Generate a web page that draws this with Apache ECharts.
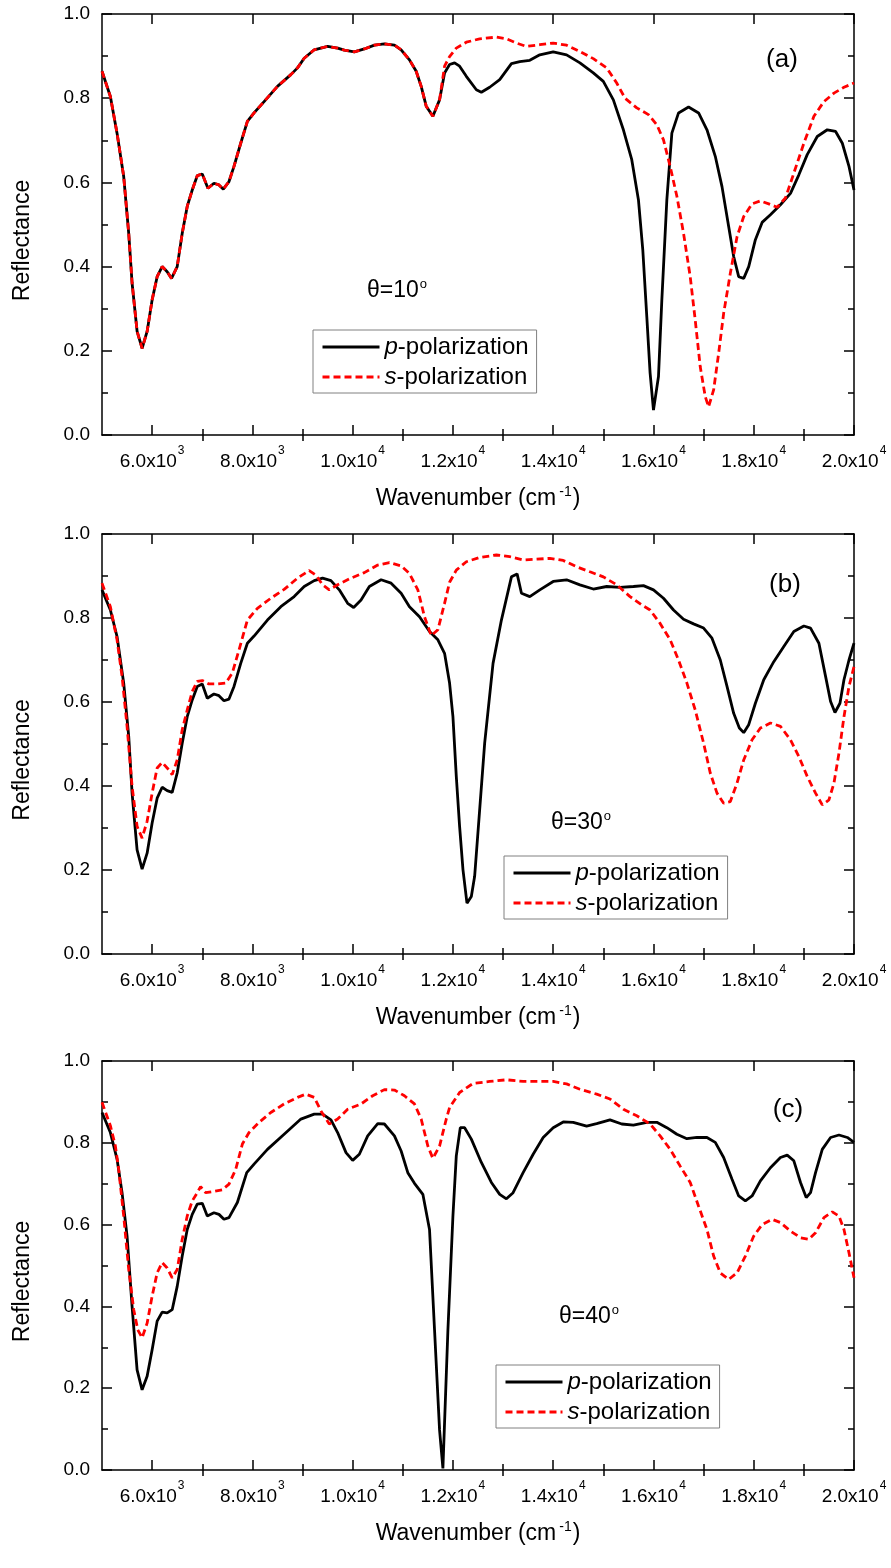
<!DOCTYPE html>
<html><head><meta charset="utf-8">
<script src="https://cdn.jsdelivr.net/npm/echarts@6/dist/echarts.min.js"></script>
<style>html,body{margin:0;padding:0;background:#fff}#c{width:891px;height:1568px}</style>
</head><body><div id="c"></div>
<script>
// ---- data (wavenumber cm^-1, reflectance) ----
const xTicks = [6000, 8000, 10000, 12000, 14000, 16000, 18000, 20000];
const yTicks = [0, 0.2, 0.4, 0.6, 0.8, 1.0];
const seriesNames = ['p-polarization', 's-polarization'];
const panelLabels = ['(a)', '(b)', '(c)'];
const angleLabels = ['10', '30', '40'];

const aCommon = [[5000,0.864],[5167,0.804],[5300,0.717],[5433,0.614],[5533,0.479],[5600,0.361],[5700,0.246],[5800,0.206],[5900,0.246],[6000,0.321],[6100,0.376],[6200,0.400],[6300,0.388],[6387,0.372],[6500,0.400],[6600,0.479],[6700,0.543],[6800,0.582],[6900,0.616],[7000,0.620],[7113,0.586],[7233,0.598],[7333,0.594],[7420,0.584],[7533,0.602],[7633,0.638],[7767,0.693],[7900,0.745],[8033,0.765],[8233,0.792],[8500,0.828],[8767,0.856],[8900,0.872],[9033,0.895],[9233,0.915],[9500,0.923],[9700,0.919],[9833,0.914],[10033,0.910],[10233,0.917],[10433,0.926],[10633,0.929],[10833,0.926],[10967,0.915],[11133,0.891],[11267,0.864],[11367,0.828],[11467,0.781],[11600,0.757],[11733,0.796]];
const aPtail = [[11833,0.860],[11933,0.880],[12033,0.884],[12133,0.876],[12267,0.852],[12467,0.820],[12567,0.814],[12733,0.826],[12933,0.844],[13167,0.882],[13333,0.887],[13533,0.890],[13733,0.903],[14000,0.910],[14267,0.903],[14533,0.884],[14800,0.860],[15000,0.840],[15200,0.796],[15400,0.725],[15567,0.654],[15700,0.559],[15787,0.440],[15867,0.281],[15933,0.147],[16000,0.059],[16100,0.139],[16167,0.321],[16267,0.559],[16367,0.717],[16500,0.765],[16700,0.779],[16900,0.765],[17067,0.725],[17233,0.662],[17367,0.590],[17500,0.495],[17600,0.424],[17700,0.376],[17800,0.372],[17900,0.400],[18033,0.464],[18167,0.505],[18333,0.523],[18533,0.547],[18733,0.574],[18900,0.618],[19067,0.666],[19267,0.709],[19467,0.725],[19633,0.721],[19767,0.693],[19900,0.638],[20000,0.582]];
const aStail = [[11833,0.876],[11933,0.899],[12067,0.919],[12267,0.933],[12533,0.941],[12867,0.945],[13067,0.941],[13267,0.931],[13467,0.923],[13733,0.927],[14000,0.931],[14267,0.926],[14533,0.911],[14800,0.894],[15067,0.872],[15267,0.836],[15433,0.800],[15667,0.777],[15900,0.761],[16067,0.737],[16200,0.701],[16333,0.638],[16467,0.567],[16600,0.479],[16733,0.376],[16833,0.273],[16933,0.162],[17033,0.091],[17100,0.067],[17200,0.107],[17300,0.194],[17400,0.289],[17533,0.384],[17667,0.471],[17800,0.519],[17967,0.549],[18133,0.556],[18300,0.549],[18467,0.541],[18633,0.563],[18800,0.622],[19000,0.693],[19200,0.757],[19400,0.792],[19600,0.812],[19800,0.826],[20000,0.836]];

const bP = [[5000,0.867],[5167,0.819],[5300,0.756],[5433,0.645],[5533,0.518],[5600,0.383],[5700,0.248],[5800,0.202],[5900,0.240],[6000,0.312],[6100,0.371],[6200,0.397],[6300,0.389],[6400,0.385],[6500,0.431],[6600,0.502],[6700,0.565],[6800,0.605],[6900,0.637],[7000,0.643],[7100,0.609],[7233,0.619],[7333,0.615],[7433,0.603],[7533,0.607],[7633,0.637],[7767,0.692],[7900,0.740],[8033,0.757],[8300,0.795],[8567,0.827],[8833,0.851],[9033,0.875],[9233,0.889],[9400,0.895],[9567,0.889],[9733,0.867],[9900,0.835],[10020,0.825],[10167,0.843],[10333,0.875],[10567,0.891],[10767,0.883],[10967,0.859],[11133,0.827],[11333,0.803],[11533,0.768],[11700,0.748],[11833,0.716],[11933,0.645],[12000,0.565],[12067,0.423],[12133,0.304],[12200,0.201],[12280,0.121],[12367,0.137],[12433,0.185],[12533,0.343],[12633,0.502],[12800,0.692],[12967,0.795],[13167,0.898],[13280,0.905],[13367,0.859],[13533,0.851],[13733,0.867],[14000,0.887],[14267,0.891],[14533,0.879],[14800,0.869],[15067,0.875],[15333,0.873],[15600,0.875],[15800,0.877],[16000,0.867],[16200,0.847],[16400,0.819],[16600,0.797],[16800,0.786],[17000,0.776],[17167,0.752],[17333,0.700],[17467,0.637],[17600,0.573],[17713,0.538],[17800,0.527],[17900,0.546],[18033,0.597],[18200,0.653],[18400,0.696],[18600,0.732],[18800,0.768],[19000,0.781],[19133,0.776],[19300,0.740],[19433,0.661],[19533,0.601],[19620,0.575],[19720,0.597],[19800,0.653],[19900,0.700],[20000,0.740]];
const bS = [[5000,0.883],[5167,0.827],[5300,0.748],[5400,0.661],[5500,0.542],[5600,0.399],[5700,0.304],[5800,0.276],[5900,0.316],[6000,0.383],[6100,0.443],[6200,0.456],[6300,0.443],[6400,0.427],[6500,0.462],[6600,0.534],[6700,0.581],[6800,0.625],[6900,0.649],[7000,0.651],[7133,0.643],[7300,0.643],[7467,0.645],[7600,0.669],[7733,0.724],[7900,0.795],[8100,0.823],[8367,0.847],[8633,0.868],[8900,0.895],[9133,0.913],[9267,0.902],[9400,0.879],[9533,0.867],[9700,0.879],[9967,0.895],[10233,0.908],[10500,0.926],[10733,0.932],[10967,0.924],[11133,0.906],[11300,0.867],[11433,0.803],[11567,0.758],[11700,0.772],[11833,0.835],[11933,0.885],[12067,0.914],[12267,0.934],[12533,0.944],[12867,0.950],[13133,0.946],[13400,0.938],[13667,0.940],[13933,0.942],[14200,0.937],[14467,0.922],[14733,0.910],[15000,0.898],[15267,0.879],[15533,0.851],[15767,0.831],[15933,0.819],[16133,0.787],[16333,0.748],[16500,0.700],[16667,0.645],[16833,0.581],[17000,0.502],[17133,0.431],[17267,0.383],[17400,0.359],[17533,0.363],[17667,0.407],[17800,0.462],[17967,0.510],[18133,0.538],[18333,0.550],[18533,0.542],[18733,0.510],[18900,0.470],[19067,0.423],[19233,0.383],[19367,0.355],[19500,0.367],[19600,0.407],[19700,0.478],[19800,0.565],[19900,0.637],[20000,0.684]];

const cP = [[5000,0.874],[5167,0.825],[5300,0.760],[5400,0.678],[5500,0.572],[5600,0.400],[5700,0.245],[5800,0.196],[5900,0.229],[6000,0.294],[6100,0.364],[6200,0.386],[6300,0.384],[6400,0.392],[6500,0.449],[6600,0.523],[6700,0.588],[6800,0.625],[6900,0.650],[7000,0.652],[7100,0.621],[7233,0.629],[7333,0.625],[7433,0.613],[7533,0.617],[7700,0.654],[7887,0.727],[8033,0.748],[8300,0.784],[8633,0.821],[8967,0.858],[9233,0.870],[9400,0.870],[9567,0.856],[9700,0.825],[9867,0.776],[10000,0.757],[10133,0.772],[10300,0.817],[10500,0.847],[10633,0.846],[10833,0.817],[10967,0.780],[11100,0.727],[11233,0.701],[11400,0.674],[11533,0.588],[11633,0.343],[11733,0.098],[11800,0.004],[11900,0.343],[12000,0.621],[12067,0.768],[12147,0.837],[12233,0.837],[12367,0.809],[12567,0.752],[12767,0.703],[12933,0.674],[13067,0.663],[13200,0.678],[13400,0.727],[13600,0.772],[13800,0.813],[14000,0.837],[14200,0.851],[14400,0.850],[14667,0.841],[14867,0.847],[15133,0.856],[15367,0.846],[15600,0.843],[15867,0.850],[16067,0.850],[16267,0.837],[16467,0.821],[16667,0.810],[16867,0.813],[17067,0.813],[17233,0.801],[17400,0.764],[17567,0.711],[17700,0.670],[17833,0.658],[17967,0.670],[18133,0.707],[18333,0.739],[18533,0.764],[18667,0.770],[18800,0.756],[18933,0.703],[19047,0.666],[19133,0.678],[19233,0.727],[19367,0.784],[19533,0.813],[19700,0.819],[19867,0.813],[20000,0.801]];
const cS = [[5000,0.899],[5167,0.842],[5267,0.792],[5333,0.735],[5433,0.621],[5533,0.490],[5633,0.392],[5713,0.343],[5800,0.323],[5900,0.359],[6000,0.425],[6100,0.482],[6200,0.507],[6300,0.494],[6400,0.470],[6500,0.490],[6600,0.564],[6700,0.621],[6800,0.658],[6900,0.678],[6967,0.693],[7067,0.678],[7233,0.681],[7400,0.685],[7533,0.699],[7667,0.735],[7800,0.797],[7933,0.825],[8133,0.850],[8367,0.874],[8633,0.895],[8900,0.911],[9067,0.919],[9233,0.911],[9367,0.878],[9533,0.846],[9700,0.858],[9900,0.882],[10167,0.895],[10400,0.915],[10633,0.930],[10833,0.929],[11033,0.915],[11233,0.895],[11367,0.858],[11500,0.792],[11600,0.762],[11733,0.792],[11867,0.858],[11933,0.886],[12133,0.923],[12400,0.945],[12733,0.950],[13067,0.954],[13400,0.950],[13733,0.950],[14000,0.950],[14267,0.944],[14533,0.931],[14867,0.919],[15133,0.907],[15400,0.882],[15667,0.866],[15933,0.846],[16133,0.817],[16333,0.784],[16533,0.743],[16733,0.703],[16900,0.645],[17067,0.588],[17200,0.523],[17333,0.482],[17500,0.466],[17667,0.482],[17833,0.523],[18000,0.572],[18167,0.600],[18367,0.613],[18533,0.605],[18733,0.584],[18933,0.568],[19100,0.564],[19233,0.580],[19400,0.617],[19567,0.631],[19700,0.621],[19800,0.588],[19900,0.531],[20000,0.470]];

const panelData = [
  [aCommon.concat(aPtail), aCommon.concat(aStail)],
  [bP, bS],
  [cP, cS]
];

// ---- layout ----
const FONT = '"Liberation Sans", Arial, sans-serif';
const grids = [
  {left: 102, top: 14, width: 752, height: 421},
  {left: 102, top: 534, width: 752, height: 420},
  {left: 102, top: 1061, width: 752, height: 409}
];
const legendPos = [{left: 313, top: 330}, {left: 504, top: 856}, {left: 496, top: 1365}];
const panelLabelPos = [[782, 60], [785, 585], [788, 1110]];
const anglePos = [[397, 291], [581, 823], [589, 1317]];

const minorX = [];
for (let v = 7000; v < 20000; v += 2000) minorX.push(v);

function xLabel(v) {
  const e = Math.floor(Math.log10(v));
  const m = (v / Math.pow(10, e)).toFixed(1);
  return '{n|' + m + 'x10}{s|' + e + '}';
}
const lineCol = '#000';
const xAxes = [], yAxes = [], series = [], legends = [], graphics = [];
grids.forEach((g, i) => {
  const base = {type: 'value', gridIndex: i, min: 5000, max: 20000, splitLine: {show: false}};
  xAxes.push(Object.assign({}, base, {
    position: 'bottom',
    axisLine: {show: true, onZero: false, lineStyle: {color: lineCol, width: 1.5}},
    axisTick: {show: true, inside: true, length: 10, customValues: xTicks, lineStyle: {color: lineCol, width: 1.5}},
    axisLabel: {show: true, customValues: xTicks, margin: 10, formatter: xLabel, color: '#000',
      rich: {n: {fontSize: 19, fontFamily: FONT, color: '#000', lineHeight: 26, verticalAlign: 'bottom'},
             s: {fontSize: 12, fontFamily: FONT, color: '#000', verticalAlign: 'top', lineHeight: 12, padding: [0, 0, 0, 1]}}},
    name: 'Wavenumber (cm{s|-1})', nameLocation: 'middle', nameGap: 50,
    nameTextStyle: {fontSize: 23, fontFamily: FONT, color: '#000',
      rich: {s: {fontSize: 14, fontFamily: FONT, color: '#000', verticalAlign: 'top', padding: [0, 1, 14, 3]}}}
  }));
  xAxes.push(Object.assign({}, base, {
    position: 'bottom', axisLine: {show: false},
    axisTick: {show: true, inside: true, length: 6, customValues: minorX, lineStyle: {color: lineCol, width: 1.5}},
    axisLabel: {show: false}
  }));
  xAxes.push(Object.assign({}, base, {
    position: 'top',
    axisLine: {show: true, onZero: false, lineStyle: {color: lineCol, width: 1.5}},
    axisTick: {show: true, inside: true, length: 10, customValues: xTicks, lineStyle: {color: lineCol, width: 1.5}},
    axisLabel: {show: false}
  }));
  xAxes.push(Object.assign({}, base, {
    position: 'top', axisLine: {show: false},
    axisTick: {show: true, inside: true, length: 6, customValues: minorX, lineStyle: {color: lineCol, width: 1.5}},
    axisLabel: {show: false}
  }));
  const ybase = {type: 'value', gridIndex: i, min: 0, max: 1, interval: 0.2, splitLine: {show: false},
    axisLine: {show: true, onZero: false, lineStyle: {color: lineCol, width: 1.5}},
    axisTick: {show: true, inside: true, length: 10, lineStyle: {color: lineCol, width: 1.5}},
    minorTick: {show: true, splitNumber: 2, length: 6, lineStyle: {color: lineCol, width: 1.5}},
    minorSplitLine: {show: false}};
  yAxes.push(Object.assign({}, ybase, {
    position: 'left',
    axisLabel: {show: true, margin: 12, fontSize: 19, fontFamily: FONT, color: '#000', formatter: v => v.toFixed(1)},
    name: 'Reflectance', nameLocation: 'middle', nameGap: 68,
    nameTextStyle: {fontSize: 23, fontFamily: FONT, color: '#000', padding: [0, 32, 0, 0]}
  }));
  yAxes.push(Object.assign({}, ybase, {position: 'right', axisLabel: {show: false}}));

  const [pData, sData] = panelData[i];
  series.push({name: seriesNames[0], type: 'line', xAxisIndex: i * 4, yAxisIndex: i * 2, data: pData,
    symbol: 'none', smooth: false, lineStyle: {color: '#000', width: 2.8}, itemStyle: {color: '#000'}, z: 3});
  series.push({name: seriesNames[1], type: 'line', xAxisIndex: i * 4, yAxisIndex: i * 2, data: sData,
    symbol: 'none', smooth: false, lineStyle: {color: '#ff0000', width: 2.8, type: [7, 4]}, itemStyle: {color: '#ff0000'}, z: 4});

  legends.push({
    show: true,
    data: seriesNames, orient: 'vertical', left: legendPos[i].left, top: legendPos[i].top,
    itemWidth: 57, itemHeight: 14, itemGap: 4, padding: [4, 8, 3, 8],
    borderColor: '#808080', borderWidth: 1, backgroundColor: '#fff', selectedMode: false,
    itemStyle: {opacity: 0, borderWidth: 0},
    lineStyle: {width: 3},
    formatter: n => '{i|' + n.charAt(0) + '}' + n.slice(1),
    textStyle: {fontSize: 24, fontFamily: FONT, color: '#000', lineHeight: 26,
      rich: {i: {fontSize: 24, fontFamily: FONT, fontStyle: 'italic', color: '#000'}}}
  });
  graphics.push({type: 'text', x: panelLabelPos[i][0], y: panelLabelPos[i][1], z: 10,
    style: {text: panelLabels[i], font: '26px ' + FONT, fill: '#000', align: 'center', verticalAlign: 'middle'}});
  graphics.push({type: 'text', x: anglePos[i][0], y: anglePos[i][1], z: 10,
    style: {text: '{m|θ=' + angleLabels[i] + '}{s|o}', align: 'center', verticalAlign: 'middle',
      rich: {m: {fontSize: 23, fontFamily: FONT, fill: '#000', color: '#000', lineHeight: 26},
             s: {fontSize: 13, fontFamily: FONT, fill: '#000', color: '#000', verticalAlign: 'top', padding: [0, 0, 12, 1]}}}});
});

const chart = echarts.init(document.getElementById('c'), null, {renderer: 'canvas', width: 891, height: 1568});
chart.setOption({
  animation: false,
  backgroundColor: '#fff',
  grid: grids,
  xAxis: xAxes,
  yAxis: yAxes,
  legend: legends,
  series: series,
  graphic: graphics
});
</script></body></html>
